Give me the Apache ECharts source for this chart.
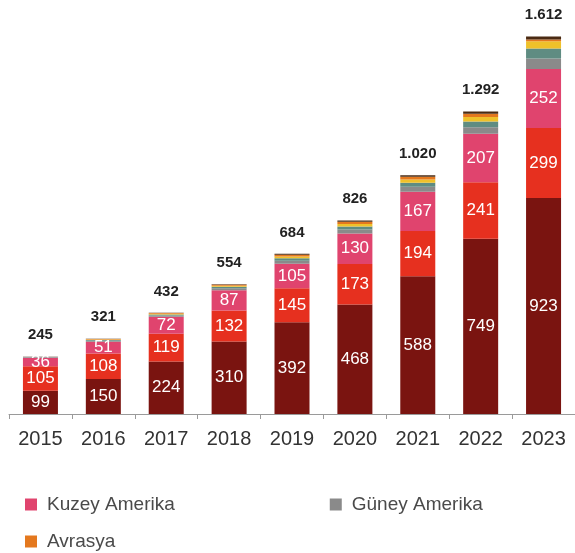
<!DOCTYPE html>
<html>
<head>
<meta charset="utf-8">
<script src="https://cdn.jsdelivr.net/npm/echarts@6/dist/echarts.min.js"></script>
<style>
  html, body { margin: 0; padding: 0; background: #ffffff; }
  #chart { width: 575px; height: 553px; }
</style>
</head>
<body>
<div id="chart"></div>
<script>
// Yearly capacity by region, stacked
const years = ['2015', '2016', '2017', '2018', '2019', '2020', '2021', '2022', '2023'];
const totals = [245, 321, 432, 554, 684, 826, 1020, 1292, 1612];

const asyaPasifik  = [99, 150, 224, 310, 392, 468, 588, 749, 923];
const avrupa       = [105, 108, 119, 132, 145, 173, 194, 241, 299];
const kuzeyAmerika = [36, 51, 72, 87, 105, 130, 167, 207, 252];
const guneyAmerika = [2, 4, 6, 8, 13, 17, 22, 28, 45];
const ortaDogu     = [1, 3, 4, 6, 10, 13, 17, 24, 42];
const afrika       = [1, 2, 3, 5, 8, 11, 14, 20, 31];
const avrasya      = [0, 2, 3, 4, 7, 9, 11, 14, 8];
const diger        = [1, 1, 1, 2, 4, 5, 7, 9, 12];

const fmtTotal = (n) => n >= 1000 ? String(n).replace(/(\d)(\d{3})$/, '$1.$2') : String(n);

const FONT = 'Liberation Sans, Arial, sans-serif';

const innerLabel = {
  show: true,
  position: 'inside',
  color: '#ffffff',
  fontFamily: FONT,
  fontSize: 17
};

function seg(name, data, color, label) {
  return {
    name: name,
    type: 'bar',
    stack: 'total',
    barWidth: 35,
    data: data,
    itemStyle: { color: color },
    label: label || { show: false },
    emphasis: { disabled: true }
  };
}

const legendText = { color: '#4a4a4a', fontSize: 19, fontFamily: FONT, padding: [0, 0, 0, 5] };

const chart = echarts.init(document.getElementById('chart'));
chart.setOption({
  animation: false,
  backgroundColor: '#ffffff',
  grid: { left: 9, right: 0, top: 16, bottom: 139 },
  legend: [
    {
      data: ['Kuzey Amerika', 'Güney Amerika'],
      left: 20, top: 490,
      icon: 'rect', itemWidth: 12, itemHeight: 12, itemGap: 155,
      textStyle: legendText
    },
    {
      data: ['Avrasya'],
      left: 20, top: 527,
      icon: 'rect', itemWidth: 12, itemHeight: 12,
      textStyle: legendText
    }
  ],
  xAxis: {
    type: 'category',
    data: years,
    axisLine: { lineStyle: { color: '#9a9a9a', width: 1 } },
    axisTick: { show: true, length: 5, lineStyle: { color: '#9a9a9a' } },
    axisLabel: { color: '#333', fontSize: 20, margin: 15, fontFamily: FONT }
  },
  yAxis: { type: 'value', min: 0, max: 1700, show: false, splitLine: { show: false } },
  series: [
    seg('Asya Pasifik', asyaPasifik, '#7a1410', innerLabel),
    seg('Avrupa', avrupa, '#e6301f', innerLabel),
    seg('Kuzey Amerika', kuzeyAmerika, '#e0446e', innerLabel),
    seg('Güney Amerika', guneyAmerika, '#8a8a8a'),
    seg('Orta Doğu', ortaDogu, '#5f8c82'),
    seg('Afrika', afrika, '#efc12a'),
    seg('Avrasya', avrasya, '#e4781e'),
    seg('Diğer', diger, '#4a2a12', {
      show: true,
      position: 'top',
      distance: 14,
      color: '#222',
      fontWeight: 'bold',
      fontSize: 15,
      fontFamily: FONT,
      formatter: (p) => fmtTotal(totals[p.dataIndex])
    })
  ]
});
</script>
</body>
</html>
